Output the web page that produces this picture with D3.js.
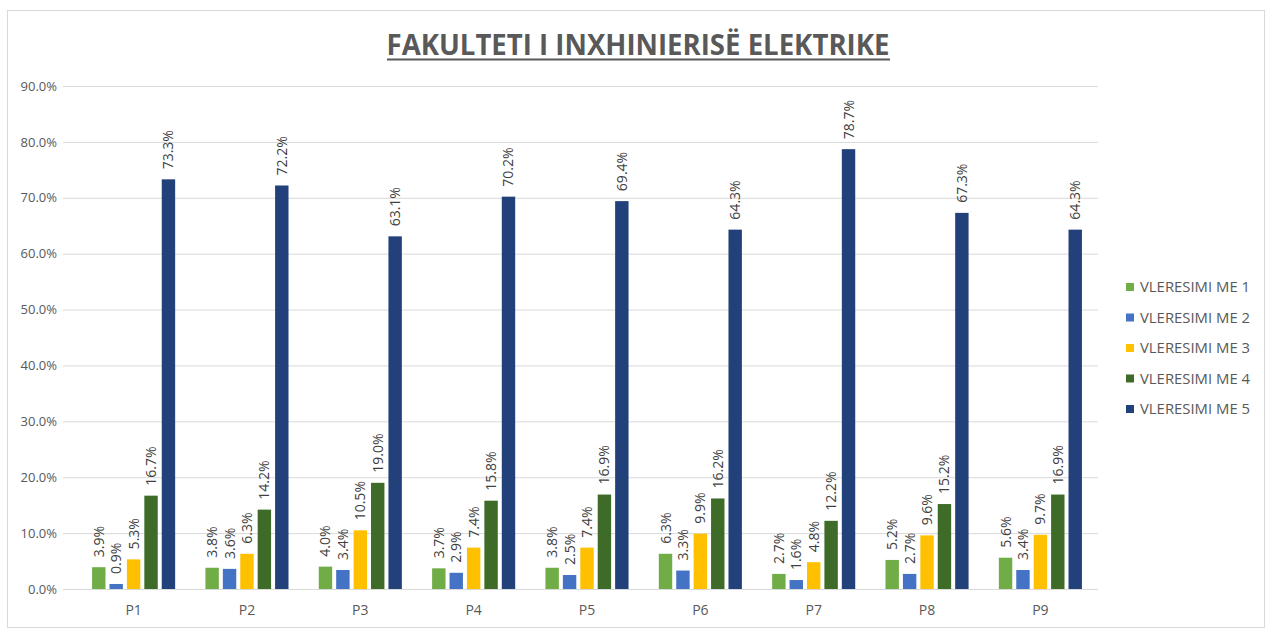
<!DOCTYPE html>
<html>
<head>
<meta charset="utf-8">
<script src="https://cdn.jsdelivr.net/npm/d3@7"></script>
<style>
    body { margin: 0; background: #fff; }
    svg text { font-family: "Open Sans", "Liberation Sans", sans-serif; }
</style>
</head>
<body>
<svg id="chart" width="1269" height="630"></svg>
<script>
// Data
const categories = ["P1", "P2", "P3", "P4", "P5", "P6", "P7", "P8", "P9"];
const seriesNames = ["VLERESIMI ME 1", "VLERESIMI ME 2", "VLERESIMI ME 3", "VLERESIMI ME 4", "VLERESIMI ME 5"];
const vleresimi1 = [3.9, 3.8, 4.0, 3.7, 3.8, 6.3, 2.7, 5.2, 5.6];
const vleresimi2 = [0.9, 3.6, 3.4, 2.9, 2.5, 3.3, 1.6, 2.7, 3.4];
const vleresimi3 = [5.3, 6.3, 10.5, 7.4, 7.4, 9.9, 4.8, 9.6, 9.7];
const vleresimi4 = [16.7, 14.2, 19.0, 15.8, 16.9, 16.2, 12.2, 15.2, 16.9];
const vleresimi5 = [73.3, 72.2, 63.1, 70.2, 69.4, 64.3, 78.7, 67.3, 64.3];
const yTicks = [0, 10, 20, 30, 40, 50, 60, 70, 80, 90];
const colors = ["#70ad47", "#4472c4", "#ffc000", "#3e6b28", "#22407a"];

const allSeries = [vleresimi1, vleresimi2, vleresimi3, vleresimi4, vleresimi5];

const svg = d3.select("#chart");
const textColor = "#595959";

// Chart frame
svg.append("rect")
    .attr("x", 7.5).attr("y", 10.5)
    .attr("width", 1257).attr("height", 617)
    .attr("fill", "#fff")
    .attr("stroke", "#d9d9d9");

// Title (underlined)
svg.append("text")
    .attr("x", 638).attr("y", 55)
    .attr("text-anchor", "middle")
    .attr("font-size", 28)
    .attr("font-weight", "bold")
    .attr("fill", textColor)
    .attr("textLength", 503)
    .attr("lengthAdjust", "spacingAndGlyphs")
    .text("FAKULTETI I INXHINIERISË ELEKTRIKE");
svg.append("line")
    .attr("x1", 387).attr("x2", 890)
    .attr("y1", 59.5).attr("y2", 59.5)
    .attr("stroke", textColor)
    .attr("stroke-width", 2);

// Scales
const y = d3.scaleLinear().domain([0, 90]).range([589, 86]);
const x0 = d3.scaleBand().domain(categories).range([77, 1097]).paddingInner(0.267).paddingOuter(0.133);
const x1 = d3.scaleBand().domain(d3.range(seriesNames.length)).range([0, x0.bandwidth()]).paddingInner(0.23);

// Y axis with gridlines
const yAxis = svg.append("g")
    .attr("transform", "translate(63,0)")
    .call(d3.axisLeft(y).tickValues(yTicks).tickSize(-1035).tickPadding(6)
        .tickFormat(d => d.toFixed(1) + "%"));
yAxis.select(".domain").remove();
yAxis.selectAll(".tick line").attr("stroke", "#d9d9d9");
yAxis.selectAll("text").attr("fill", textColor).attr("font-size", 13);

// X axis
const xAxis = svg.append("g")
    .attr("transform", "translate(0,589)")
    .call(d3.axisBottom(x0).tickSize(0).tickPadding(16));
xAxis.select(".domain").remove();
xAxis.selectAll("text").attr("fill", textColor).attr("font-size", 14);

// Bars and labels
const groups = svg.append("g").selectAll("g")
    .data(categories)
    .join("g")
    .attr("transform", d => `translate(${x0(d)},0)`);

const cells = groups.selectAll("g")
    .data((c, ci) => allSeries.map((s, si) => ({ si, v: s[ci] })))
    .join("g");

cells.append("rect")
    .attr("x", d => x1(d.si))
    .attr("y", d => y(d.v))
    .attr("width", x1.bandwidth())
    .attr("height", d => y(0) - y(d.v))
    .attr("fill", d => colors[d.si]);

cells.append("text")
    .attr("transform", d => `translate(${x1(d.si) + x1.bandwidth() / 2 + 5},${y(d.v) - 10}) rotate(-90)`)
    .attr("font-size", 14)
    .attr("fill", "#404040")
    .text(d => d.v.toFixed(1) + "%");

// Legend
const legend = svg.append("g").selectAll("g")
    .data(seriesNames)
    .join("g")
    .attr("transform", (d, i) => `translate(1126,${287 + i * 30.5})`);
legend.append("rect")
    .attr("x", 0).attr("y", -4)
    .attr("width", 8).attr("height", 8)
    .attr("fill", (d, i) => colors[i]);
legend.append("text")
    .attr("x", 14).attr("y", 5)
    .attr("font-size", 14)
    .attr("fill", textColor)
    .attr("textLength", 110)
    .attr("lengthAdjust", "spacingAndGlyphs")
    .text(d => d);
</script>
</body>
</html>
